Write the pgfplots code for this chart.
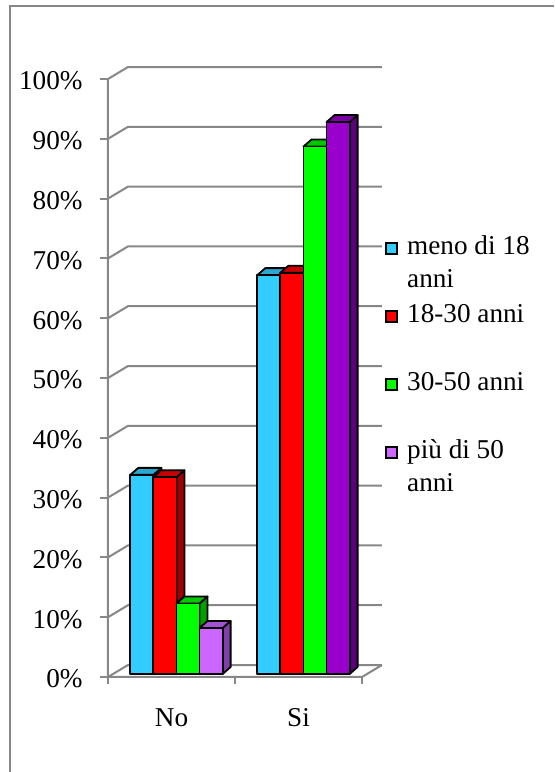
\documentclass[border=0pt]{standalone}
\usepackage{pgfplots}
\usepackage{pgfplotstable}
\usepackage{fontspec}
\setmainfont{Liberation Serif}
\pgfplotsset{compat=1.18}

\definecolor{gridgray}{HTML}{878787}
% bar faces: F = front, T = top, S = side
\definecolor{cyanF}{HTML}{33CCFF}
\definecolor{cyanT}{HTML}{2AA8D2}
\definecolor{cyanS}{HTML}{2391B5}
\definecolor{redF}{HTML}{FF0000}
\definecolor{redT}{HTML}{C80000}
\definecolor{redS}{HTML}{A00000}
\definecolor{greenF}{HTML}{00FF00}
\definecolor{greenT}{HTML}{00C800}
\definecolor{greenS}{HTML}{00A000}
\definecolor{lilacF}{HTML}{CC66FF}
\definecolor{lilacT}{HTML}{A552D0}
\definecolor{lilacS}{HTML}{8040A8}
\definecolor{purpleF}{HTML}{9900CC}
\definecolor{purpleT}{HTML}{7A00A3}
\definecolor{purpleS}{HTML}{5E007E}

% share of answers (%) by age group: a = meno di 18, b = 18-30, c = 30-50, d = piu di 50
\pgfplotstableread{
cat a    b    c    d
0   33.3 32.9 11.8 7.7
1   66.7 67.1 88.2 92.3
}\answers

% geometry of the pseudo-3D bars (axis units)
\def\bw{0.1818}     % bar width
\def\bstart{0.1754} % offset of the first bar in a group
\def\bbase{0.5}     % bars stand slightly behind the front edge of the floor
\def\ddx{0.063}     % bar depth, x
\def\ddy{1.17}      % bar depth, y
\def\wdx{0.157}     % wall depth, x
\def\wdy{2.0}       % wall depth, y

\newcommand\barbox[4]{% #1 category, #2 position in group, #3 value, #4 colour prefix
  \pgfmathsetmacro\xl{#1+\bstart+#2*\bw}%
  \pgfmathsetmacro\xr{\xl+\bw}%
  \pgfmathsetmacro\xld{\xl+\ddx}%
  \pgfmathsetmacro\xrd{\xr+\ddx}%
  \pgfmathsetmacro\yb{\bbase}%
  \pgfmathsetmacro\ybd{\bbase+\ddy}%
  \pgfmathsetmacro\yt{\bbase+#3}%
  \pgfmathsetmacro\ytd{\yt+\ddy}%
  \edef\tmp{%
    \noexpand\addplot[barface, fill=#4S] coordinates {(\xr,\yb) (\xrd,\ybd) (\xrd,\ytd) (\xr,\yt)} -- cycle;
    \noexpand\addplot[barface, fill=#4T] coordinates {(\xl,\yt) (\xr,\yt) (\xrd,\ytd) (\xld,\ytd)} -- cycle;
    \noexpand\addplot[barface, fill=#4F] coordinates {(\xl,\yb) (\xr,\yb) (\xr,\yt) (\xl,\yt)} -- cycle;
  }\tmp
}

\begin{document}
\begin{tikzpicture}[font=\fontsize{13.6}{16.5}\selectfont]
\path[use as bounding box] (0,0) rectangle (277pt,386pt);
\draw[gridgray, line width=1.1pt] (277pt,383pt) -- (5pt,383pt) -- (5pt,0pt);
\begin{axis}[
  at={(54pt,47.5pt)}, anchor=south west,
  scale only axis, width=127pt, height=299pt,
  xmin=0, xmax=2, ymin=0, ymax=100,
  clip=false,
  axis line style={draw=none},
  tick align=outside,
  xtick pos=bottom, ytick pos=left,
  ytick={0,10,...,100},
  yticklabels={0\%,10\%,20\%,30\%,40\%,50\%,60\%,70\%,80\%,90\%,100\%},
  ytick style={draw=gridgray, line width=1pt},
  major tick length=4pt,
  yticklabel style={anchor=east, inner sep=0pt, xshift=-8.5pt, yshift=-1pt},
  xtick={0.5,1.5}, xticklabels={No,Si},
  xtick style={draw=none},
  xticklabel style={anchor=base, inner sep=0pt, yshift=-20.5pt},
  extra x ticks={0,1,2}, extra x tick labels={},
  extra x tick style={xtick style={draw=gridgray, line width=1pt}, major tick length=3.5pt},
  gridline/.style={gridgray, line width=1pt, forget plot, mark=none},
  barface/.style={draw=black, line width=0.9pt, line join=round, forget plot, mark=none},
  legend image code/.code={\draw[#1, draw=black, line width=0.9pt] (0pt,0.5pt) rectangle (5.5pt,6pt);},
  legend style={draw=none, fill=none, at={(1.0906,0.739)}, anchor=north west,
    inner sep=0pt, row sep=0pt, column sep=4.5pt,
    cells={anchor=base west},
    nodes={inner sep=0pt, text height=9.7pt, text depth=24.3pt}},
]
% walls and floor
\pgfplotsforeachungrouped \k in {0,10,...,100}{%
  \pgfmathsetmacro\kb{\k+\wdy}%
  \pgfmathsetmacro\xe{2+\wdx}%
  \edef\tmp{\noexpand\addplot[gridline] coordinates {(0,\k) (\wdx,\kb) (\xe,\kb)};}\tmp
}
\addplot[gridline] coordinates {(0,100) (0,0) (2,0) (2.157,2)};

% bars, left to right
\pgfplotsforeachungrouped \r in {0,1}{%
  \pgfplotstablegetelem{\r}{a}\of\answers \barbox{\r}{0}{\pgfplotsretval}{cyan}%
  \pgfplotstablegetelem{\r}{b}\of\answers \barbox{\r}{1}{\pgfplotsretval}{red}%
  \pgfplotstablegetelem{\r}{c}\of\answers \barbox{\r}{2}{\pgfplotsretval}{green}%
  \ifnum\r=0 \def\dcol{lilac}\else\def\dcol{purple}\fi
  \pgfplotstablegetelem{\r}{d}\of\answers \barbox{\r}{3}{\pgfplotsretval}{\dcol}%
}

\addlegendimage{fill=cyanF}
\addlegendentry{\parbox[t]{75pt}{meno di 18\newline anni}}
\addlegendimage{fill=redF}
\addlegendentry{\parbox[t]{75pt}{18-30 anni}}
\addlegendimage{fill=greenF}
\addlegendentry{\parbox[t]{75pt}{30-50 anni}}
\addlegendimage{fill=lilacF}
\addlegendentry{\parbox[t]{75pt}{più di 50\newline anni}}
\end{axis}
\end{tikzpicture}
\end{document}
